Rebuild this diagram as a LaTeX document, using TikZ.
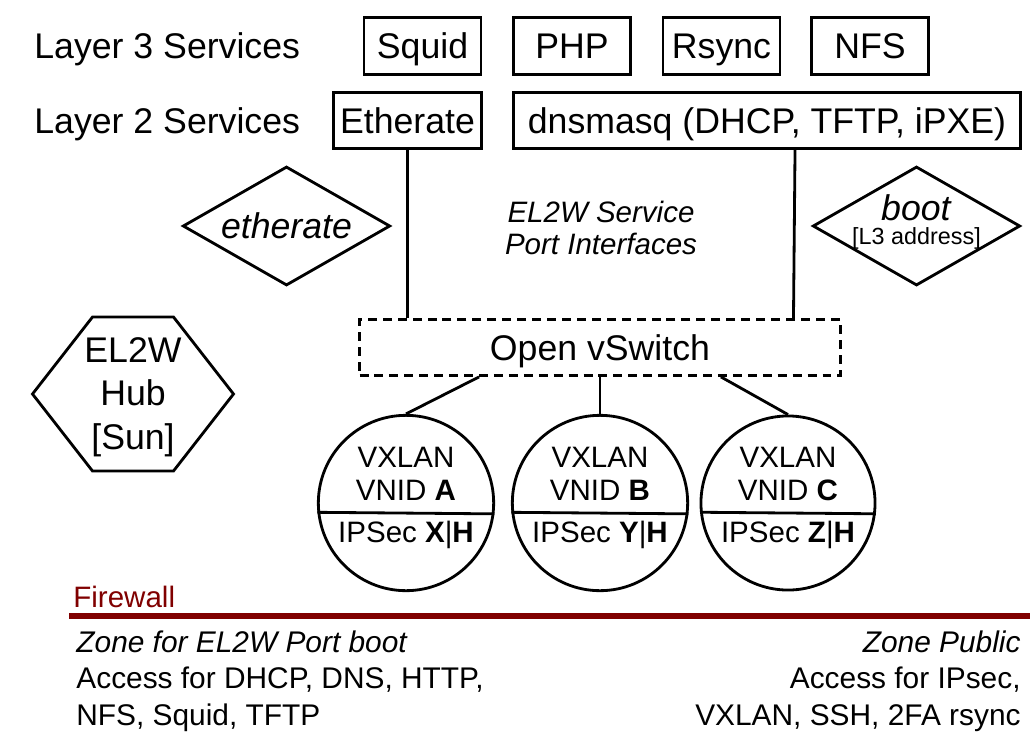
\documentclass[tikz,border=0pt]{standalone}
\usepackage{fontspec}
\setmainfont{Liberation Sans}
\usetikzlibrary{shapes.geometric,calc}
\definecolor{fwred}{RGB}{128,0,0}
\newcommand{\bigtxt}{\fontsize{20.3}{24}\selectfont}
\newcommand{\midtxt}{\fontsize{16.8}{18.7}\selectfont}
\newcommand{\zonetxt}{\fontsize{17}{21}\selectfont}

\begin{document}
\begin{tikzpicture}[x=0.02cm, y=-0.02cm, line width=1.6pt,
    lbl/.style={inner sep=0pt, anchor=west, font=\bigtxt, text height=14.5pt, text depth=0pt},
    sbox/.style={draw, rectangle, inner sep=0pt, font=\bigtxt, text height=14.5pt, text depth=0pt, minimum width=2.34cm, minimum height=1.14cm},
    port/.style={draw, diamond, aspect=1.74, minimum width=4.15cm, minimum height=2.38cm, inner sep=-6pt, align=center},
    vnode/.style={draw, circle, minimum size=3.28cm, inner sep=0pt, align=center, font=\midtxt}]

    \useasboundingbox (0,0) rectangle (1035,738);

    \node[lbl] (l3) at (33,46) {Layer 3 Services};
    \node[lbl] (l2) at (33,120.5) {Layer 2 Services};

    \node[sbox] (squid) at (422.5,46) {Squid};
    \node[sbox] (php) at (572,46) {PHP};
    \node[sbox] (rsync) at (721.5,46) {Rsync};
    \node[sbox] (nfs) at (870,46) {NFS};

    \node[sbox, minimum width=2.96cm, minimum height=1.12cm] (eth) at (407.5,120.5) {Etherate};
    \node[sbox, minimum width=10.14cm, minimum height=1.12cm] (dns) at (767,120.5) {dnsmasq (DHCP, TFTP, iPXE)};

    \node[port, font=\bigtxt\itshape] (ethp) at (286.5,226) {etherate};
    \node[port, font=\fontsize{20.3}{13.4}\selectfont] (bootp) at (916.5,226) {\textit{boot}\\{\fontsize{13.3}{13.4}\selectfont [L3 address]\rule[-7.4pt]{0pt}{7.4pt}}};

    \node[font=\midtxt\itshape, align=center, inner sep=0pt] (spi) at (601,228) {EL2W Service\\Port Interfaces};

    \node[sbox, dash pattern=on 5.1pt off 3.4pt, minimum width=9.62cm, minimum height=1.12cm] (ovs) at (600,347.5) {Open vSwitch};

    \coordinate (hubc) at (133,394);
    \node[font=\fontsize{20.3}{24.7}\selectfont, align=center, inner sep=0pt] (hub) at (133,397) {EL2W\\Hub\\{[Sun]}};
    \draw ($(hubc)+(-100.5,0)$) -- ++(60,-77) -- ++(81,0) -- ++(60,77) -- ++(-60,77) -- ++(-81,0) -- cycle;

    \node[vnode] (va) at (406,503) {VXLAN\\VNID \textbf{A}\\[5.1pt]IPSec \textbf{X}|\textbf{H}\rule[-9.6pt]{0pt}{9.6pt}};
    \node[vnode] (vb) at (600,503) {VXLAN\\VNID \textbf{B}\\[5.1pt]IPSec \textbf{Y}|\textbf{H}\rule[-9.6pt]{0pt}{9.6pt}};
    \node[vnode] (vc) at (788,503) {VXLAN\\VNID \textbf{C}\\[5.1pt]IPSec \textbf{Z}|\textbf{H}\rule[-9.6pt]{0pt}{9.6pt}};
    \foreach \n in {va,vb,vc}
        \draw (\n.186.9) -- (\n.353.1);

    \draw (eth.south) -- (eth.south |- ovs.north);
    \draw ($(dns.south west)!0.555!(dns.south east)$) -- ($(ovs.north west)!0.9!(ovs.north east)$);
    \draw ($(ovs.south west)!0.25!(ovs.south east)$) -- (va.north);
    \draw (ovs.south) -- (vb.north);
    \draw ($(ovs.south west)!0.75!(ovs.south east)$) -- (vc.north);

    \node[inner sep=0pt, anchor=west, font=\midtxt, text=fwred] (fw) at (72,597) {Firewall};
    \coordinate (fwl) at (69,616);
    \coordinate (fwr) at (1030,616);
    \draw[fwred, line width=3.4pt] (fwl) -- (fwr);

    \node[inner sep=0pt, anchor=north west, align=left, font=\zonetxt] (zboot) at (75,629) {\textit{Zone for EL2W Port boot}\\Access for DHCP, DNS, HTTP,\\NFS, Squid, TFTP};
    \node[inner sep=0pt, anchor=north east, align=right, font=\zonetxt] (zpub) at (1022,629) {\textit{Zone Public}\\Access for IPsec,\\VXLAN, SSH, 2FA rsync};

\end{tikzpicture}
\end{document}
